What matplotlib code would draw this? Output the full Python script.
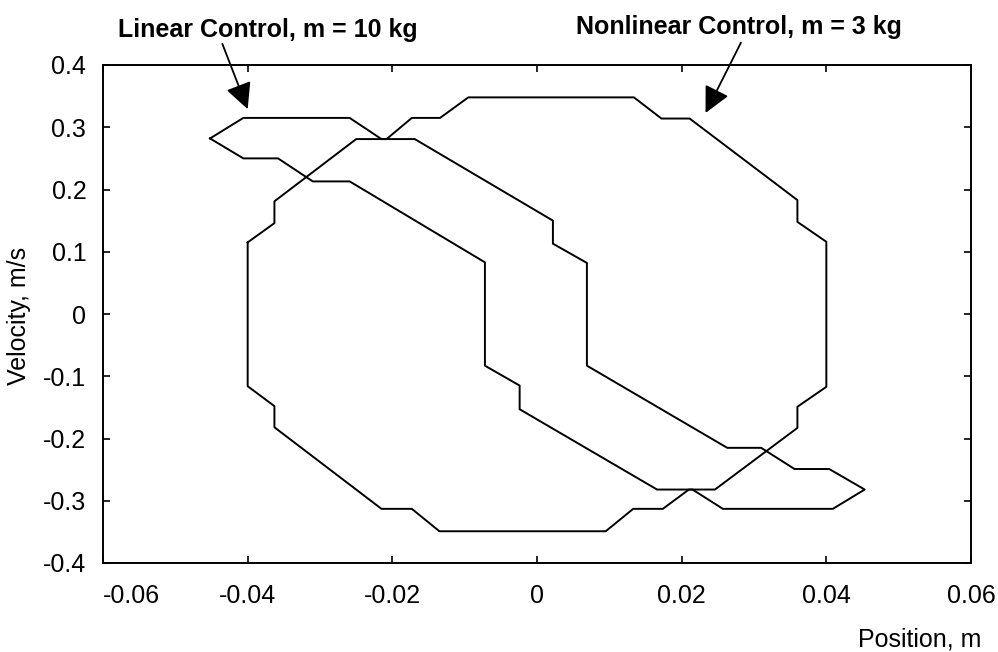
import matplotlib
matplotlib.use("Agg")
import matplotlib.pyplot as plt

# Data
# Linear control, m = 10 kg
lin_x = [-0.0452, -0.0406, -0.0259, -0.0215, -0.0169, 0.0022, 0.0022, 0.0069,
         0.0069, 0.0263, 0.0310, 0.0356, 0.0404, 0.0453, 0.0409, 0.0257,
         0.0215, 0.0166, -0.0024, -0.0024, -0.0072, -0.0072, -0.0259, -0.0310,
         -0.0358, -0.0406, -0.0452]
lin_v = [0.282, 0.315, 0.315, 0.281, 0.281, 0.150, 0.113, 0.082,
         -0.083, -0.215, -0.215, -0.249, -0.249, -0.282, -0.313, -0.313,
         -0.282, -0.282, -0.153, -0.115, -0.083, 0.083, 0.213, 0.213,
         0.250, 0.250, 0.282]

# Nonlinear control, m = 3 kg
nl_x = [-0.0400, -0.0363, -0.0363, -0.0250, -0.0208, -0.0173, -0.0134, -0.0095,
        0.0134, 0.0172, 0.0211, 0.0360, 0.0360, 0.0400, 0.0400, 0.0360,
        0.0360, 0.0246, 0.0210, 0.0174, 0.0133, 0.0095, -0.0135, -0.0173,
        -0.0215, -0.0363, -0.0363, -0.0400, -0.0400]
nl_v = [0.115, 0.146, 0.181, 0.281, 0.281, 0.315, 0.315, 0.348,
        0.348, 0.314, 0.314, 0.183, 0.148, 0.116, -0.117, -0.149,
        -0.183, -0.282, -0.282, -0.313, -0.313, -0.349, -0.349, -0.313,
        -0.313, -0.182, -0.148, -0.116, 0.115]

xticks = [-0.06, -0.04, -0.02, 0, 0.02, 0.04, 0.06]
xlabels = ["-0.06", "-0.04", "-0.02", "0", "0.02", "0.04", "0.06"]
yticks = [-0.4, -0.3, -0.2, -0.1, 0, 0.1, 0.2, 0.3, 0.4]
ylabels = ["-0.4", "-0.3", "-0.2", "-0.1", "0", "0.1", "0.2", "0.3", "0.4"]

plt.rcParams['font.family'] = ['Liberation Sans', 'DejaVu Sans']

fig = plt.figure(figsize=(9.98, 6.52), dpi=100)
ax = fig.add_axes([103 / 998, 89 / 652, 868 / 998, 498 / 652])

ax.plot(lin_x, lin_v, color="black", lw=1.4)
ax.plot(nl_x, nl_v, color="black", lw=1.4)

ax.set_xlim(-0.06, 0.06)
ax.set_ylim(-0.4, 0.4)
ax.set_xticks(xticks)
ax.set_xticklabels(xlabels)
ax.set_yticks(yticks)
ax.set_yticklabels(ylabels)
ax.tick_params(direction="in", top=True, right=True, length=5, width=1.2,
               labelsize=18, pad=12)
ax.tick_params(axis="x", pad=15)
ax.get_xticklabels()[0].set_ha("left")
for s in ax.spines.values():
    s.set_linewidth(1.4)

# Annotations
fig.text(118 / 998, 1 - 37 / 652, "Linear Control, m = 10 kg",
         fontsize=18, fontweight="bold", ha="left", va="baseline")
fig.text(739 / 998, 1 - 34 / 652, "Nonlinear Control, m = 3 kg",
         fontsize=18, fontweight="bold", ha="center", va="baseline")
arrow = dict(arrowstyle="-|>,head_length=0.8,head_width=0.4", color="black",
             lw=1.3, mutation_scale=20, shrinkA=0, shrinkB=0)
ax.annotate("", xy=(-0.0400, 0.329), xytext=(-0.0435, 0.434),
            arrowprops=arrow, annotation_clip=False)
ax.annotate("", xy=(0.0233, 0.323), xytext=(0.0282, 0.436),
            arrowprops=arrow, annotation_clip=False)

fig.text(19 / 998, 1 - 316 / 652, "Velocity, m/s", fontsize=18,
         rotation=90, ha="center", va="center")
fig.text(981 / 998, 5 / 652, "Position, m", fontsize=18,
         ha="right", va="baseline")

fig.savefig("out.png", dpi=100)
